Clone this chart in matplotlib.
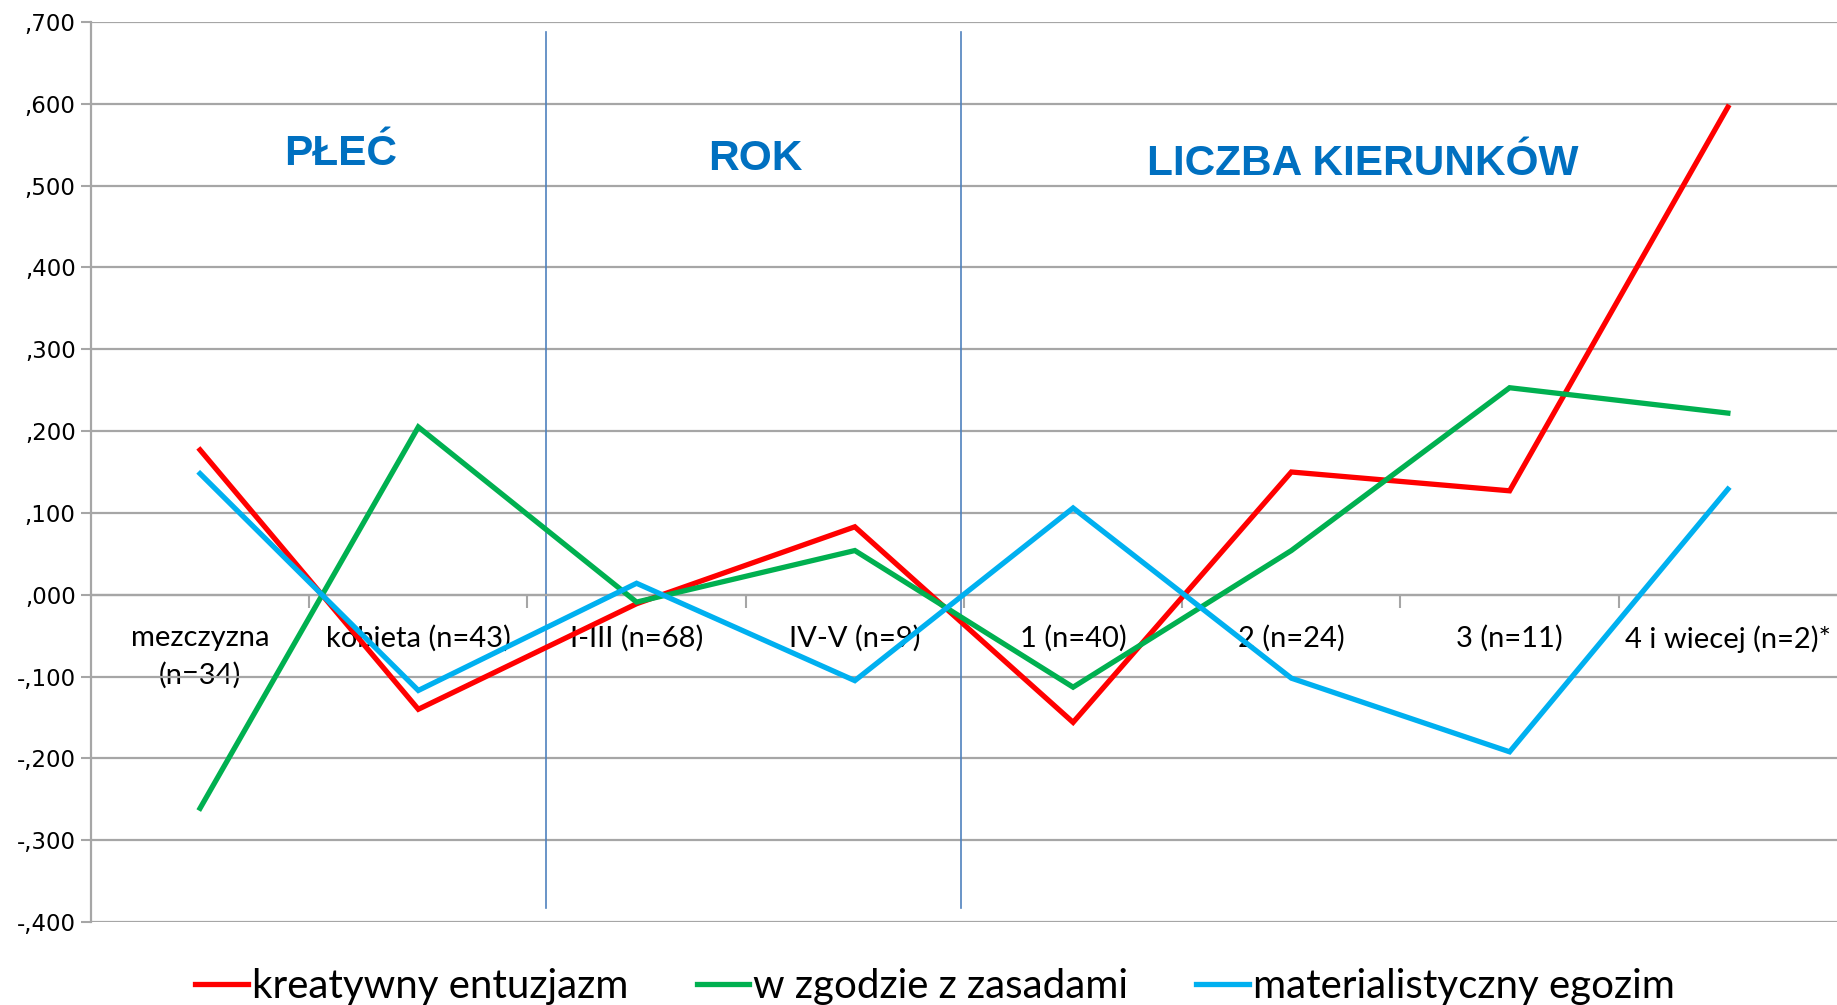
#!/usr/bin/env python3
import matplotlib
matplotlib.use("Agg")
import matplotlib.pyplot as plt
from matplotlib.ticker import FixedLocator, FuncFormatter

categories = ["mezczyzna\n(n=34)", "kobieta (n=43)", "I-III (n=68)", "IV-V (n=9)",
              "1 (n=40)", "2 (n=24)", "3 (n=11)", "4 i wiecej (n=2)*"]

kreatywny = [0.177, -0.140, -0.011, 0.083, -0.156, 0.150, 0.127, 0.596]
zasady = [-0.261, 0.205, -0.009, 0.054, -0.113, 0.054, 0.253, 0.222]
egozim = [0.148, -0.117, 0.014, -0.105, 0.106, -0.102, -0.192, 0.129]

series_names = ["kreatywny entuzjazm", "w zgodzie z zasadami", "materialistyczny egozim"]
group_titles = ["PŁEĆ", "ROK", "LICZBA KIERUNKÓW"]

COLORS = ["#FF0000", "#00B050", "#00B0F0"]
GRID = "#A6A6A6"
TITLE_COLOR = "#0070C0"
LABEL_FONT = ["Lato", "DejaVu Sans"]


def fmt(v, _pos):
    s = f"{v:.3f}"
    if s.startswith("-0"):
        s = "-" + s[2:]
    elif s.startswith("0"):
        s = s[1:]
    return s.replace(".", ",")


def main():
    fig = plt.figure(figsize=(18.37, 10.05), dpi=100)
    ax = fig.add_axes([0.0495, 0.0826, 0.9505, 0.8955])

    x = list(range(len(categories)))
    for vals, name, c in zip([kreatywny, zasady, egozim], series_names, COLORS):
        ax.plot(x, vals, color=c, lw=3.8, label=name, solid_joinstyle="miter", zorder=3)

    ax.set_xlim(-0.5, len(categories) - 0.5)
    ax.set_ylim(-0.4, 0.7)
    yt = [i / 10 for i in range(-4, 8)]
    ax.set_yticks(yt)
    ax.yaxis.set_major_formatter(FuncFormatter(fmt))
    ax.yaxis.grid(True, color=GRID, lw=1.6, zorder=0)
    ax.tick_params(axis="y", length=7, width=1.5, color=GRID, labelsize=16.5, pad=4)
    for lab in ax.get_yticklabels():
        lab.set_fontfamily("DejaVu Sans")

    # category axis crosses at zero
    ax.spines["bottom"].set_position(("data", 0))
    ax.spines["bottom"].set_color(GRID)
    ax.spines["bottom"].set_linewidth(1.6)
    ax.spines["left"].set_color(GRID)
    ax.spines["left"].set_linewidth(1.6)
    ax.spines["top"].set_visible(False)
    ax.spines["right"].set_visible(False)

    ax.xaxis.set_major_locator(FixedLocator(x))
    ax.set_xticklabels(categories, fontsize=21, family=LABEL_FONT, linespacing=1.5)
    ax.xaxis.set_minor_locator(FixedLocator([i + 0.5 for i in x[:-1]]))
    ax.tick_params(axis="x", which="major", length=0, pad=22)
    ax.tick_params(axis="x", which="minor", length=9, width=1.5, color=GRID, direction="out")

    # group separators
    for xs in (1.583, 3.485):
        ax.axvline(xs, ymin=0.015, ymax=0.989, color="#4F81BD", lw=1.2, zorder=2)

    for (tx, ty), t in zip([(0.644, 0.539), (2.544, 0.532), (5.325, 0.526)], group_titles):
        ax.text(tx, ty, t, ha="center", va="center", fontsize=30.5, fontweight="bold",
                color=TITLE_COLOR, family=["Liberation Sans", "DejaVu Sans"])

    fig.legend(loc="center", bbox_to_anchor=(0.509, 0.018), ncol=3, frameon=False,
               prop={"family": LABEL_FONT, "size": 29}, handlelength=1.3,
               handletextpad=0.1, columnspacing=1.7)

    fig.savefig("out.png", dpi=100)


if __name__ == "__main__":
    main()
